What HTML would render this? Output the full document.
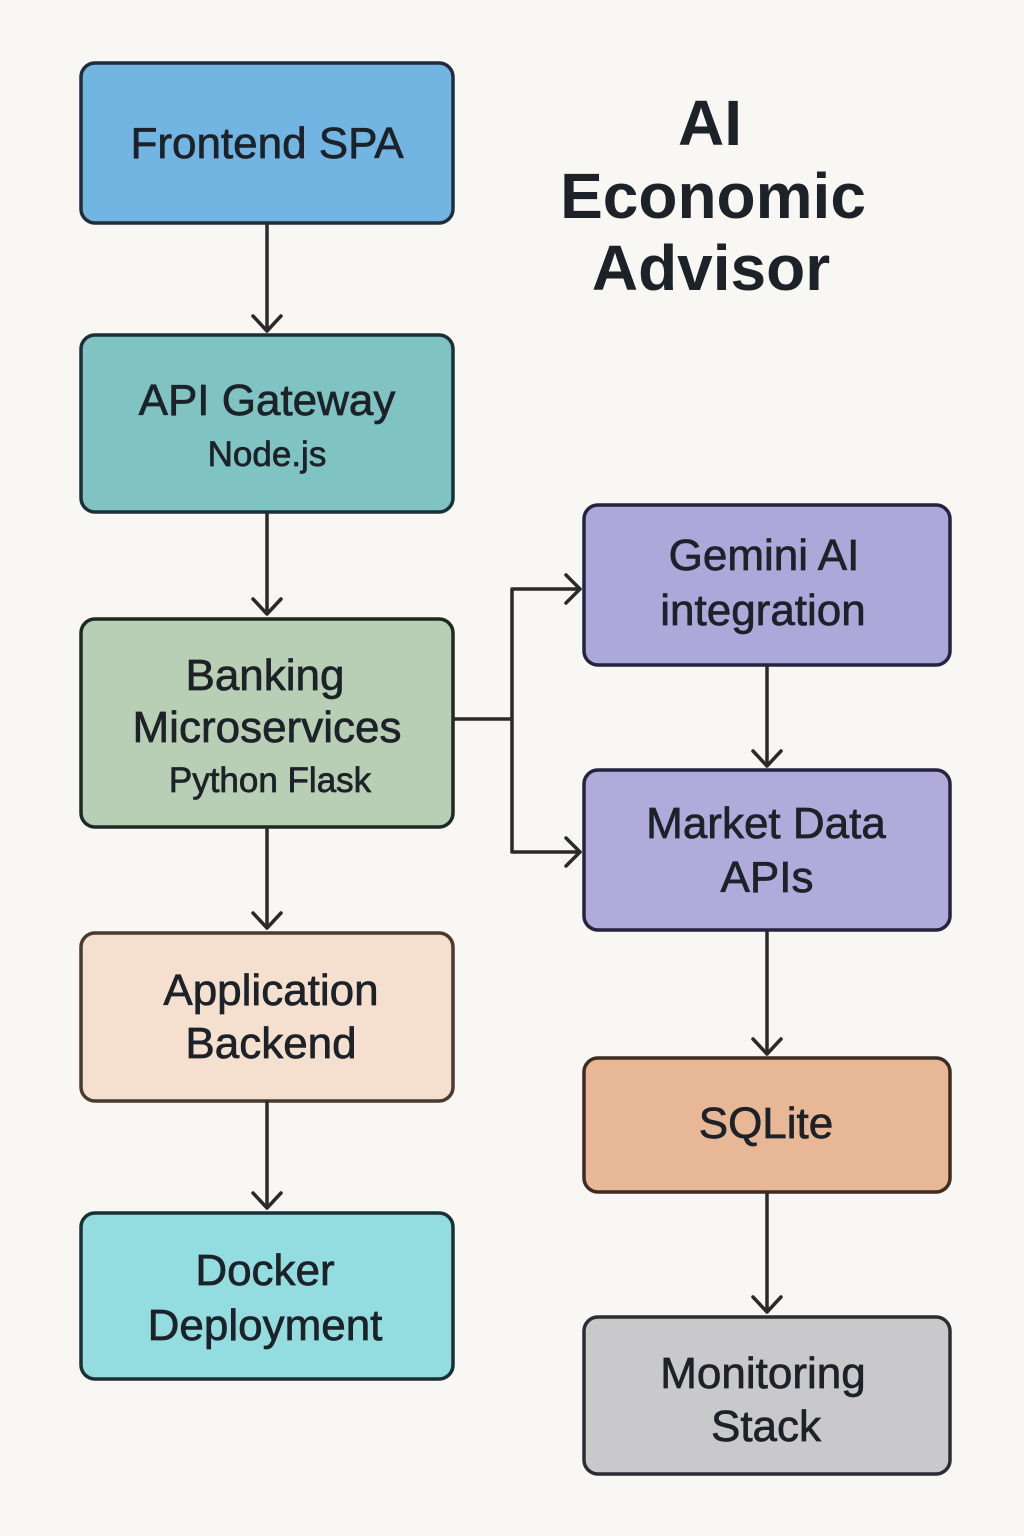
<!DOCTYPE html>
<html><head><meta charset="utf-8"><style>
html,body{margin:0;padding:0;background:#f8f7f4;}
svg{display:block;}
text{font-family:"Liberation Sans",sans-serif;fill:#1c2228;text-anchor:middle;stroke:#1c2228;stroke-width:0.7px;}
.t{font-size:44px;}
.s{font-size:35px;}
.h{font-size:64px;font-weight:bold;stroke:none;}
</style></head><body>
<svg width="1024" height="1536" viewBox="0 0 1024 1536" xmlns="http://www.w3.org/2000/svg">
<rect width="1024" height="1536" fill="#f8f7f4"/>
<g stroke-width="3.5">
<rect x="81" y="63" width="372" height="160" rx="14" fill="#72b4e2" stroke="#1f2d3d"/>
<rect x="81" y="335" width="372" height="177" rx="14" fill="#7fc3c3" stroke="#1a3035"/>
<rect x="81" y="619" width="372" height="208" rx="14" fill="#b9cfb5" stroke="#1d2a22"/>
<rect x="81" y="933" width="372" height="168" rx="14" fill="#f5e0d0" stroke="#4a3a30"/>
<rect x="81" y="1213" width="372" height="166" rx="14" fill="#93dce0" stroke="#1a3035"/>
<rect x="584" y="505" width="366" height="160" rx="14" fill="#ada8da" stroke="#25233f"/>
<rect x="584" y="770" width="366" height="160" rx="14" fill="#b0abdb" stroke="#25233f"/>
<rect x="584" y="1058" width="366" height="134" rx="14" fill="#e8b896" stroke="#3e2c22"/>
<rect x="584" y="1317" width="366" height="157" rx="14" fill="#c9c9cb" stroke="#2a2d33"/>
</g>
<g stroke="#2a2a2a" stroke-width="3.5" fill="none" stroke-linecap="round" stroke-linejoin="round">
<path d="M267 224V331M253 316L267 331L281 316"/>
<path d="M267 513V614M253 599L267 614L281 599"/>
<path d="M267 828V928M253 913L267 928L281 913"/>
<path d="M267 1102V1208M253 1193L267 1208L281 1193"/>
<path d="M767 666V766M753 751L767 766L781 751"/>
<path d="M767 931V1054M753 1039L767 1054L781 1039"/>
<path d="M767 1193V1312M753 1297L767 1312L781 1297"/>
<path d="M454 719H512M512 589V852M512 589H580M512 852H580"/>
<path d="M566 575L580 589L566 603M566 838L580 852L566 866"/>
</g>
<text class="h" x="710" y="145">AI</text>
<text class="h" x="713" y="218">Economic</text>
<text class="h" x="711" y="290">Advisor</text>
<text class="t" x="267" y="158">Frontend SPA</text>
<text class="t" x="267" y="415">API Gateway</text>
<text class="s" x="267" y="466">Node.js</text>
<text class="t" x="265" y="690">Banking</text>
<text class="t" x="267" y="742">Microservices</text>
<text class="s" x="270" y="792">Python Flask</text>
<text class="t" x="271" y="1005">Application</text>
<text class="t" x="271" y="1058">Backend</text>
<text class="t" x="265" y="1285">Docker</text>
<text class="t" x="265" y="1340">Deployment</text>
<text class="t" x="764" y="570">Gemini AI</text>
<text class="t" x="763" y="625">integration</text>
<text class="t" x="766" y="838">Market Data</text>
<text class="t" x="767" y="892">APIs</text>
<text class="t" x="766" y="1138">SQLite</text>
<text class="t" x="763" y="1388">Monitoring</text>
<text class="t" x="766" y="1441">Stack</text>
</svg>
</body></html>
